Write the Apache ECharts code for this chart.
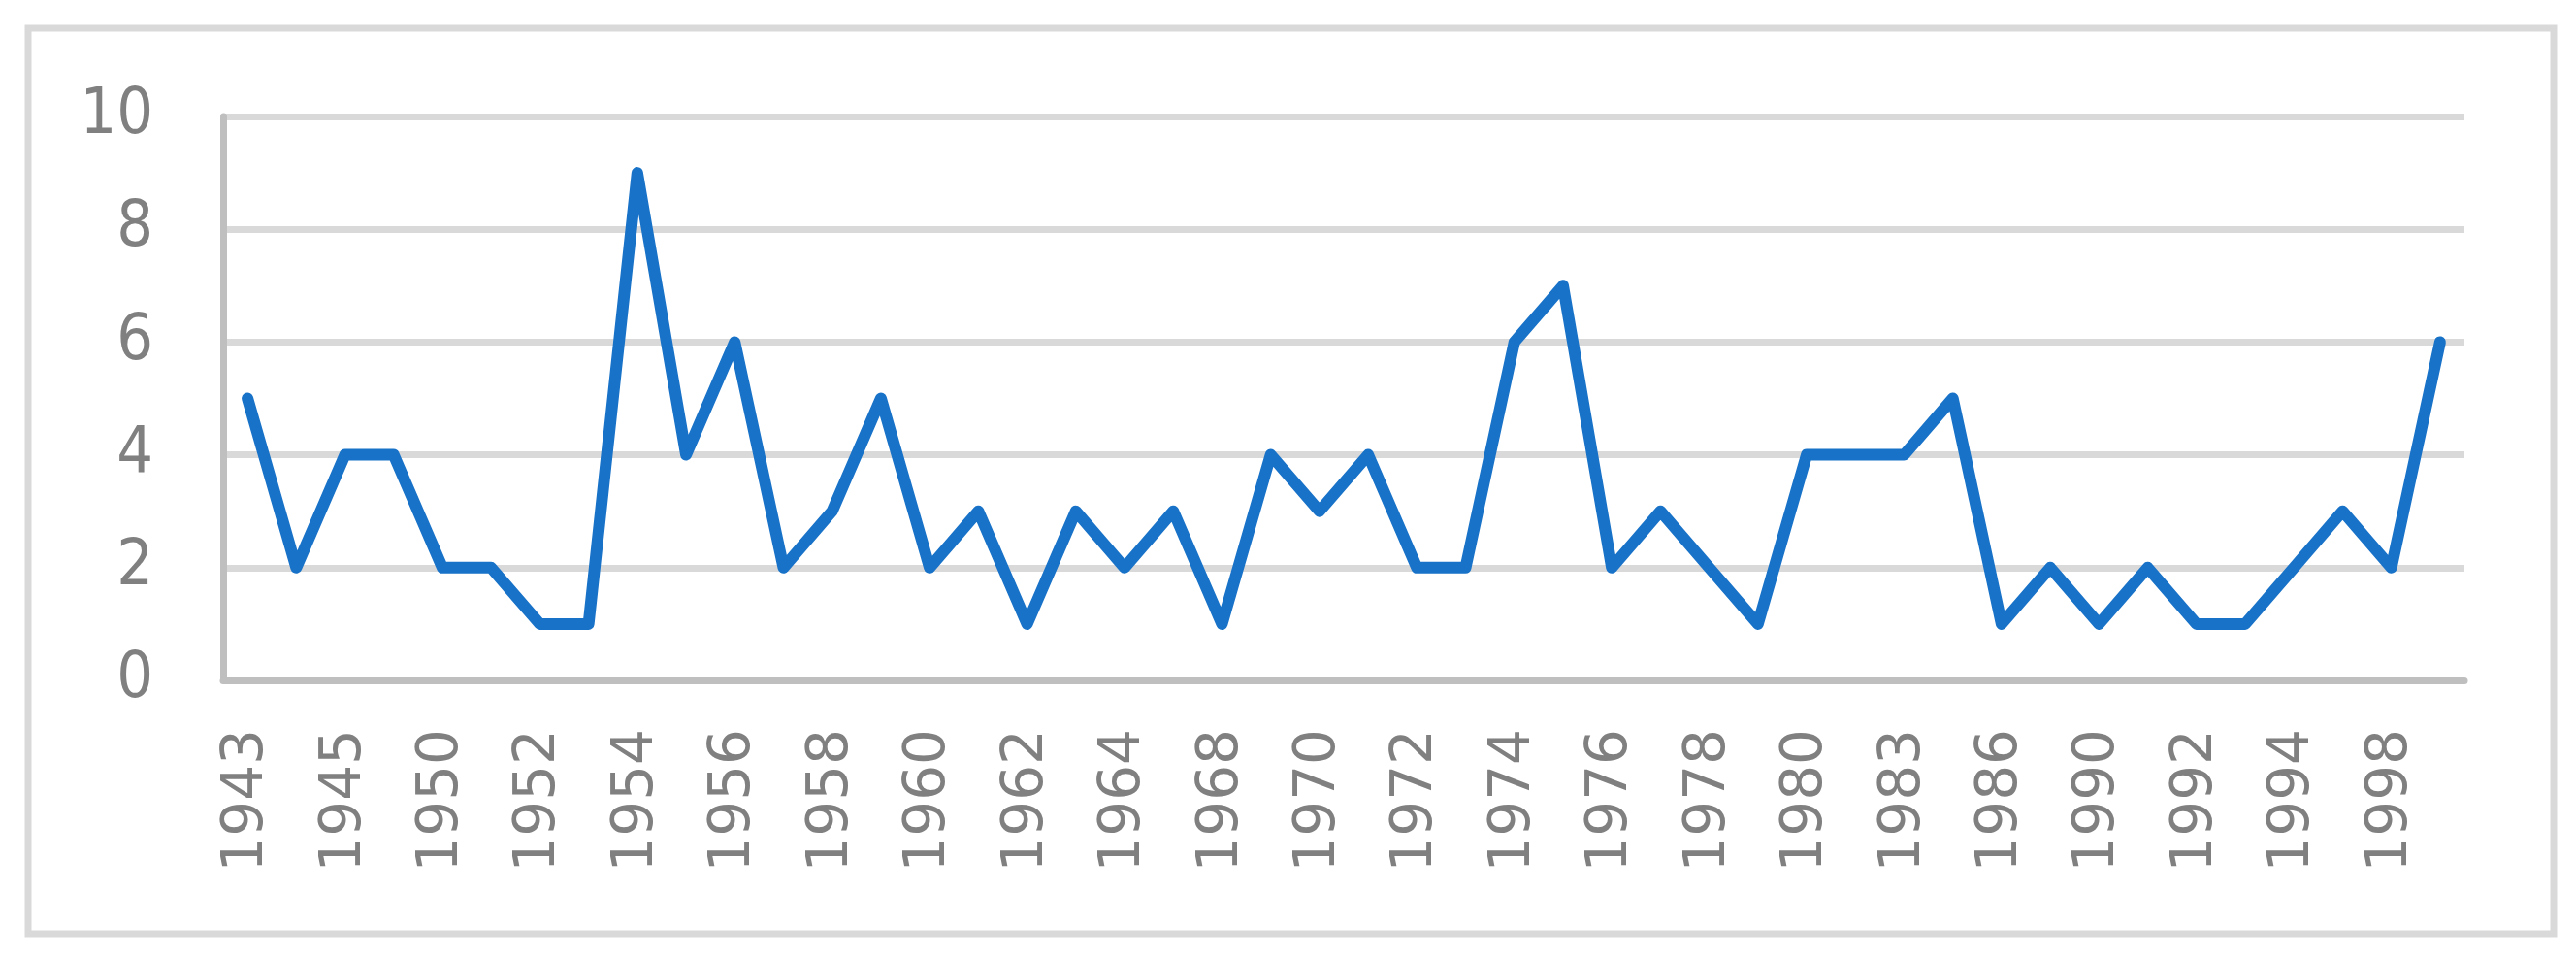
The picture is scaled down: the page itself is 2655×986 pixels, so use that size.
<!DOCTYPE html>
<html>
<head>
<meta charset="utf-8">
<style>
  html, body { margin: 0; padding: 0; background: #fff; }
  #main { width: 2655px; height: 986px; }
</style>
<script src="https://cdn.jsdelivr.net/npm/echarts@6/dist/echarts.min.js"></script>
</head>
<body>
<div id="main"></div>
<script>
// years (only every other one is labelled on the axis)
var years = ["1943","1944","1945","1946","1950","1951","1952","1953","1954","1955",
             "1956","1957","1958","1959","1960","1961","1962","1963","1964","1966",
             "1968","1969","1970","1971","1972","1973","1974","1975","1976","1977",
             "1978","1979","1980","1982","1983","1985","1986","1988","1990","1991",
             "1992","1993","1994","1996","1998","1999"];
var counts = [5,2,4,4,2,2,1,1,9,4,
              6,2,3,5,2,3,1,3,2,3,
              1,4,3,4,2,2,6,7,2,3,
              2,1,4,4,4,5,1,2,1,2,
              1,1,2,3,2,6];
var yTicks = [0, 2, 4, 6, 8, 10];

var chart = echarts.init(document.getElementById("main"));
chart.setOption({
    backgroundColor: "#fff",
    animation: false,
    graphic: [{
        type: "rect",
        shape: { x: 29, y: 29, width: 2603, height: 933 },
        style: { fill: "none", stroke: "#d9d9d9", lineWidth: 7 }
    }],
    grid: { left: 230, right: 115, top: 120, bottom: 285 },
    xAxis: {
        type: "category",
        data: years,
        boundaryGap: true,
        axisLine: { lineStyle: { color: "#bfbfbf", width: 7 } },
        axisTick: { show: false },
        axisLabel: {
            interval: 1,
            rotate: 90,
            margin: 50,
            color: "#808080",
            fontFamily: "DejaVu Sans",
            fontSize: 58
        }
    },
    yAxis: {
        type: "value",
        min: yTicks[0],
        max: yTicks[yTicks.length - 1],
        interval: 2,
        axisLine: { show: true, lineStyle: { color: "#bfbfbf", width: 7 } },
        axisTick: { show: false },
        splitLine: { lineStyle: { color: "#d9d9d9", width: 7 } },
        axisLabel: {
            margin: 72,
            color: "#808080",
            fontFamily: "Liberation Sans Narrow, DejaVu Sans Condensed, sans-serif",
            fontSize: 66
        }
    },
    series: [{
        type: "line",
        data: counts,
        symbol: "none",
        lineStyle: { color: "#1872c8", width: 12, join: "round", cap: "round" }
    }]
});
</script>
</body>
</html>
